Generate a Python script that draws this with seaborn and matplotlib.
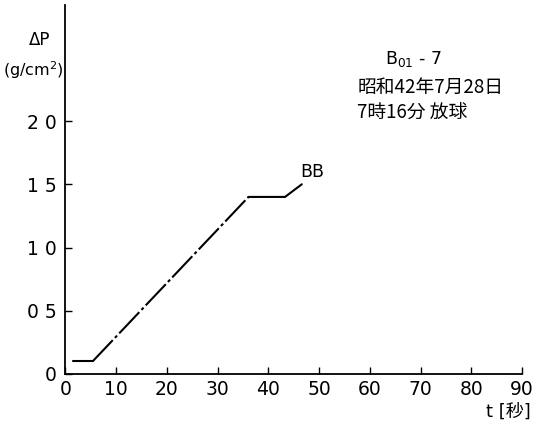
import matplotlib
matplotlib.use("Agg")
import matplotlib.pyplot as plt
import seaborn as sns
import pandas as pd

# Data
t_sec = [1.5, 5.4, 36.1, 43.3, 46.6]
delta_p = [0.1, 0.1, 1.4, 1.4, 1.5]
x_ticks = [0, 10, 20, 30, 40, 50, 60, 70, 80, 90]
y_ticks = [0, 0.5, 1.0, 1.5, 2.0]
y_tick_labels = ["0", "0 5", "1 0", "1 5", "2 0"]
series_label = "BB"
title_lines = ["B$_{01}$ - 7", "昭和42年7月28日", "7時16分 放球"]

sns.set_theme(style="white")
plt.rcParams["font.family"] = ["DejaVu Sans", "Noto Sans CJK JP"]
plt.rcParams["text.color"] = "black"
plt.rcParams["xtick.color"] = "black"
plt.rcParams["ytick.color"] = "black"
plt.rcParams["axes.labelcolor"] = "black"

df = pd.DataFrame({"t": t_sec, "dp": delta_p})

fig = plt.figure(figsize=(5.33, 4.24), dpi=100)
ax = fig.add_axes([0.1225, 0.118, 0.857, 0.870])

seg1 = df.iloc[0:2]
seg2 = df.iloc[1:3]
seg3 = df.iloc[2:5]
sns.lineplot(data=seg1, x="t", y="dp", ax=ax, color="black", lw=1.5, sort=False)
sns.lineplot(data=seg2, x="t", y="dp", ax=ax, color="black", lw=1.5, sort=False,
             dashes=False)
ax.lines[-1].set_dashes([14, 1.5, 1.5, 1.5])
sns.lineplot(data=seg3, x="t", y="dp", ax=ax, color="black", lw=1.5, sort=False)

ax.set_xlim(0, 90)
ax.set_ylim(0, 2.917)
ax.set_xticks(x_ticks)
ax.set_xticklabels([str(v) for v in x_ticks])
ax.set_yticks(y_ticks)
ax.set_yticklabels(y_tick_labels)
ax.tick_params(axis="both", direction="in", length=5, width=1, colors="black",
               labelsize=13.5, pad=4, left=True, bottom=True)
ax.tick_params(axis="y", pad=6)
for side in ["top", "right"]:
    ax.spines[side].set_visible(False)
for side in ["left", "bottom"]:
    ax.spines[side].set_color("black")
    ax.spines[side].set_linewidth(1.3)
ax.set_xlabel("")
ax.set_ylabel("")

ax.text(48.6, 1.60, series_label, fontsize=12.5, ha="center", va="center",
        color="black")

fig.text(0.075, 0.905, "ΔP", fontsize=12, ha="center", va="center", color="black")
fig.text(0.062, 0.835, "(g/cm$^2$)", fontsize=11.5, ha="center", va="center",
         color="black")
fig.text(0.995, 0.030, "t [秒]", fontsize=13, ha="right", va="center",
         color="black", family=["DejaVu Sans", "Noto Sans CJK JP"])

fig.text(0.775, 0.860, title_lines[0], fontsize=12.5, ha="center", va="center",
         color="black")
fig.text(0.670, 0.795, title_lines[1], fontsize=13.5, ha="left", va="center",
         color="black", family=["Noto Sans CJK JP", "DejaVu Sans"])
fig.text(0.670, 0.735, title_lines[2], fontsize=13.5, ha="left", va="center",
         color="black", family=["Noto Sans CJK JP", "DejaVu Sans"])

fig.savefig("out.png", dpi=100)
